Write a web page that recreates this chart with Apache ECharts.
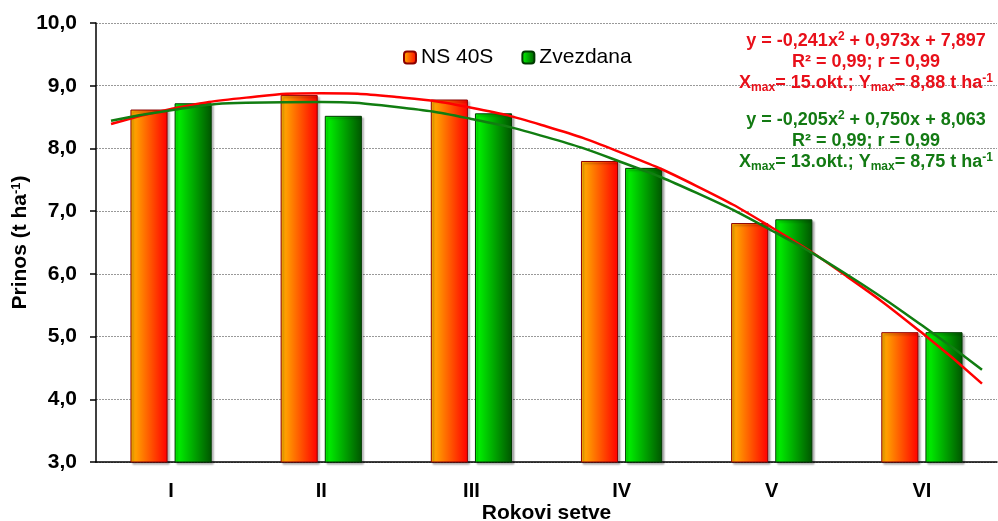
<!DOCTYPE html>
<html><head><meta charset="utf-8">
<script src="https://cdn.jsdelivr.net/npm/echarts@6/dist/echarts.min.js"></script>
<style>html,body{margin:0;padding:0;background:#fff;overflow:hidden}#c{width:998px;height:521px}</style>
</head><body><div id="c"></div>
<script>
// ---- data ----
const categories = ['I', 'II', 'III', 'IV', 'V', 'VI'];
const ns40s = [8.62, 8.85, 8.78, 7.80, 6.81, 5.07];
const zvezdana = [8.72, 8.52, 8.56, 7.69, 6.87, 5.07];
// trend curves (x = sowing term index)
const trendX = [0.6, 1.0, 1.5, 2.0, 2.5, 3.0, 3.5, 4.0, 4.5, 5.0, 5.5, 6.0, 6.4];
const trendNS = [8.39, 8.63, 8.81, 8.88, 8.82, 8.65, 8.35, 7.93, 7.40, 6.74, 5.96, 5.06, 4.25];
const trendZv = [8.44, 8.61, 8.73, 8.74, 8.66, 8.47, 8.18, 7.78, 7.29, 6.69, 5.99, 5.18, 4.47];
const yTicks = [3, 4, 5, 6, 7, 8, 9, 10];

const chart = echarts.init(document.getElementById('c'), null, {renderer: 'canvas', width: 998, height: 521});
const FONT = 'Liberation Sans, Arial, sans-serif';
const redC = '#E8101A', greenC = '#137A13';

const nsGrad = new echarts.graphic.LinearGradient(0, 0, 1, 0, [
  {offset: 0, color: '#FFB800'}, {offset: 1, color: '#FF0000'}]);
const zvGrad = new echarts.graphic.LinearGradient(0, 0, 1, 0, [
  {offset: 0, color: '#00FF00'}, {offset: 1, color: '#005500'}]);

function eqText(y, lines, color) {
  const base = {fontSize: 12, fontWeight: 'bold', fontFamily: FONT, fill: color};
  return {
    type: 'text', x: 866, y: y, z: 100,
    style: {
      text: lines.join('\n'), fill: color, font: 'bold 18px ' + FONT,
      align: 'center', textAlign: 'center', verticalAlign: 'top', lineHeight: 21,
      rich: {
        s: Object.assign({}, base, {verticalAlign: 'top', lineHeight: 21}),
        b: Object.assign({}, base, {verticalAlign: 'bottom', lineHeight: 13})
      }
    }
  };
}

chart.setOption({
  animation: false,
  backgroundColor: '#fff',
  grid: {left: 96, right: 1, top: 23, bottom: 59, containLabel: false, outerBoundsMode: 'none'},
  legend: {
    data: ['NS 40S', 'Zvezdana'], top: 42, left: 398,
    itemWidth: 12, itemHeight: 12, itemGap: 28,
    textStyle: {fontSize: 21, color: '#000', fontFamily: FONT}
  },
  xAxis: [{
    type: 'category', data: categories, boundaryGap: true,
    axisLine: {lineStyle: {color: '#000', width: 1.5}},
    axisTick: {show: false},
    axisLabel: {fontSize: 20, fontWeight: 'bold', color: '#000', fontFamily: FONT, margin: 19},
    name: 'Rokovi setve', nameLocation: 'middle', nameGap: 41, nameMoveOverlap: false,
    nameTextStyle: {fontSize: 21, fontWeight: 'bold', color: '#000', fontFamily: FONT}
  }, {
    type: 'value', min: 0.5, max: 6.5, show: false
  }],
  yAxis: {
    type: 'value', min: 3, max: 10, interval: 1,
    axisLine: {show: true, lineStyle: {color: '#000', width: 1.5}},
    axisTick: {show: true, length: 6, lineStyle: {color: '#000', width: 1.5}},
    splitLine: {lineStyle: {color: '#999', type: [2, 1], width: 1}},
    axisLabel: {
      fontSize: 21, fontWeight: 'bold', color: '#000', fontFamily: FONT, margin: 19,
      formatter: v => yTicks.includes(v) ? v.toFixed(1).replace('.', ',') : ''
    },
    name: '{a|Prinos (t ha}{s|-1}{a|)}', nameLocation: 'middle', nameGap: 65, nameRotate: 90,
    nameMoveOverlap: false,
    nameTextStyle: {
      rich: {
        a: {fontSize: 21, fontWeight: 'bold', color: '#000', fontFamily: FONT},
        s: {fontSize: 13, fontWeight: 'bold', color: '#000', fontFamily: FONT, verticalAlign: 'top'}
      }
    }
  },
  series: [{
    name: 'NS 40S', type: 'bar', data: ns40s, barWidth: '24.7%', barGap: '19%',
    itemStyle: {color: nsGrad, borderColor: '#8B0000', borderWidth: 1,
      shadowColor: 'rgba(0,0,0,0.3)', shadowOffsetX: 2, shadowOffsetY: 2, shadowBlur: 2}
  }, {
    name: 'Zvezdana', type: 'bar', data: zvezdana, barWidth: '24.7%', barGap: '19%',
    itemStyle: {color: zvGrad, borderColor: '#003A00', borderWidth: 1,
      shadowColor: 'rgba(0,0,0,0.3)', shadowOffsetX: 2, shadowOffsetY: 2, shadowBlur: 2}
  }, {
    name: 'trendNS', type: 'line', xAxisIndex: 1, smooth: true, showSymbol: false, z: 5,
    data: trendX.map((x, i) => [x, trendNS[i]]),
    lineStyle: {color: '#FF0000', width: 2.5}
  }, {
    name: 'trendZv', type: 'line', xAxisIndex: 1, smooth: true, showSymbol: false, z: 6,
    data: trendX.map((x, i) => [x, trendZv[i]]),
    lineStyle: {color: '#117D11', width: 2.5}
  }],
  graphic: [
    eqText(31, ['y = -0,241x{s|2} + 0,973x + 7,897', 'R² = 0,99; r = 0,99', 'X{b|max}= 15.okt.; Y{b|max}= 8,88 t ha{s|-1}'], redC),
    eqText(110, ['y = -0,205x{s|2} + 0,750x + 8,063', 'R² = 0,99; r = 0,99', 'X{b|max}= 13.okt.; Y{b|max}= 8,75 t ha{s|-1}'], greenC)
  ]
});
</script></body></html>
